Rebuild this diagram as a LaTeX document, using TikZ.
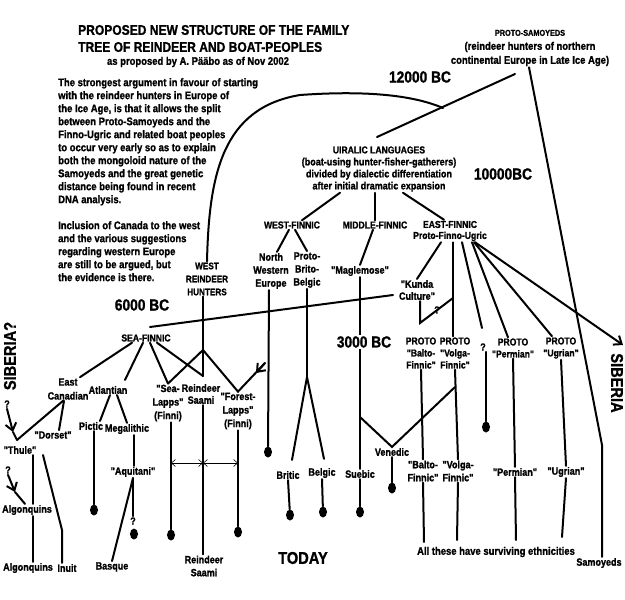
\documentclass[tikz,border=0pt]{standalone}
\usepackage{fontspec}
\setmainfont{Liberation Sans}[FakeStretch=0.86,Ligatures=TeXOff,BoldFeatures={FakeBold=1.2}]
\usetikzlibrary{arrows.meta}
\usetikzlibrary{shapes.geometric}

\tikzset{
  txt/.style={font=\bfseries\fontsize{10.5}{13}\selectfont,align=center,inner sep=1pt},
  caps/.style={txt,font=\bfseries\fontsize{10}{12}\selectfont},
  era/.style={font=\bfseries\fontsize{16}{18}\selectfont,inner sep=1pt},
  tree/.style={line width=2pt,line cap=round},
  enddot/.style={ellipse,fill=black,inner sep=0pt,minimum width=8pt,minimum height=11pt},
  drift/.style={line width=0.6pt,{Straight Barb[length=4pt,width=7pt]}-{Straight Barb[length=4pt,width=7pt]}}
}

\begin{document}
\begin{tikzpicture}[x=1pt,y=-1pt,>={Straight Barb[length=7pt,width=11pt]}]
\fill[white] (0,0) rectangle (625,600);
\useasboundingbox (0,0) rectangle (625,600);

% heading and notes
\node[font=\bfseries\fontsize{14}{17}\selectfont,align=left,anchor=west,inner sep=0pt] (title) at (78,38.5) {PROPOSED NEW STRUCTURE OF THE FAMILY\\TREE OF REINDEER AND BOAT-PEOPLES};
\node[txt,font=\bfseries\fontsize{11}{13}\selectfont] (byline) at (198,62) {as proposed by A. Pääbo as of Nov 2002};
\node[txt,font=\bfseries\fontsize{11}{13}\selectfont,align=left,anchor=north west] (argue) at (57,77) {The strongest argument in favour of starting\\with the reindeer hunters in Europe of\\the Ice Age, is that it allows the split\\between Proto-Samoyeds and the\\Finno-Ugric and related boat peoples\\to occur very early so as to explain\\both the mongoloid nature of the\\Samoyeds and the great genetic\\distance being found in recent\\DNA analysis.};
\node[txt,font=\bfseries\fontsize{11}{13}\selectfont,align=left,anchor=north west] (canada) at (57,220) {Inclusion of Canada to the west\\and the various suggestions\\regarding western Europe\\are still to be argued, but\\the evidence is there.};

% dates
\node[era] (y12000) at (420,77) {12000 BC};
\node[era] (y10000) at (503,174) {10000BC};
\node[era] (y6000) at (142,305) {6000 BC};
\node[era,font=\bfseries\fontsize{17}{18}\selectfont] (today) at (303,558) {TODAY};
\node[era,font=\bfseries\fontsize{17}{18}\selectfont,rotate=-90] (sib) at (617,383) {SIBERIA};
\node[era,font=\bfseries\fontsize{17}{18}\selectfont,rotate=90] (sibq) at (10,356) {SIBERIA?};

% upper tree
\node[txt,font=\bfseries\fontsize{11}{14}\selectfont] (psam) at (530,48) {{\fontsize{8.5}{14}\selectfont PROTO-SAMOYEDS}\\(reindeer hunters of northern\\continental Europe in Late Ice Age)};
\node[txt,font=\bfseries\fontsize{10.5}{12}\selectfont] (ural) at (379,169) {{\fontsize{10}{12}\selectfont UIRALIC LANGUAGES}\\(boat-using hunter-fisher-gatherers)\\divided by dialectic differentiation\\after initial dramatic expansion};
\node[caps] (wfin) at (292,225) {WEST-FINNIC};
\node[caps] (mfin) at (375,225) {MIDDLE-FINNIC};
\node[caps,font=\bfseries\fontsize{10}{11}\selectfont] (efin) at (450,231) {EAST-FINNIC\\Proto-Finno-Ugric};
\node[txt] (nwe) at (271,271) {North\\Western\\Europe};
\node[txt] (pbb) at (307,270) {Proto-\\Brito-\\Belgic};
\node[txt] (magl) at (360,271) {"Maglemose"};
\node[txt,font=\bfseries\fontsize{10.5}{12}\selectfont] (kunda) at (417,290) {"Kunda\\Culture"};
\node[caps,font=\bfseries\fontsize{9.5}{13}\selectfont] (wrh) at (207,279) {WEST\\REINDEER\\HUNTERS};

\coordinate (psJ) at (443,108);
\coordinate (uralTop) at (377,137);
\coordinate (psFoot) at (515,74);
\coordinate (samBend) at (602,445);
\draw[tree] (uralTop) -- (psFoot);
\draw[tree] (wrh.north) .. controls (209,175) and (222,108) .. (300,95) .. controls (370,90) and (415,96) .. (psJ);
\node[txt] (samoy) at (599,563) {Samoyeds};
\draw[tree] ([xshift=-1pt]psam.south) -- (samBend) -- ([xshift=3pt]samoy.north);

\draw[tree] ([xshift=-39pt]ural.south) -- ([xshift=10pt]wfin.north);
\draw[tree] ([xshift=-4pt]ural.south) -- (mfin.north);
\draw[tree] ([xshift=24pt]ural.south) -- ([xshift=-6pt]efin.north);
\draw[tree] ([xshift=-3pt]wfin.south) -- ([xshift=6pt]nwe.north);
\draw[tree] ([xshift=3pt]wfin.south) -- (pbb.north);
\draw[tree] ([xshift=-2pt]mfin.south) -- (magl.north);

% east-finnic fan
\node[txt,font=\bfseries\fontsize{10}{12}\selectfont] (pbalto) at (421,353) {PROTO\\"Balto-\\Finnic"};
\node[txt,font=\bfseries\fontsize{10}{12}\selectfont] (pvolga) at (455,353) {PROTO\\"Volga-\\Finnic"};
\node[txt] (qmid) at (483,347) {?};
\node[txt,font=\bfseries\fontsize{10}{12}\selectfont] (pperm) at (513,348) {PROTO\\"Permian"};
\node[txt,font=\bfseries\fontsize{10}{12}\selectfont] (pugr) at (561,348) {PROTO\\"Ugrian"};
\node[txt] (qkunda) at (437,310) {?};
\coordinate (baltoJ) at (420,323);
\coordinate (volgaJ) at (453,298);
\coordinate (qTop) at (482,328);
\coordinate (sibTip) at (623,345);
\draw[tree] ([xshift=-9pt]efin.south) -- (kunda.north);
\draw[tree] ([xshift=3pt]efin.south) -- ([xshift=-2pt]pvolga.north);
\draw[tree] ([xshift=12pt]efin.south) -- (qTop);
\draw[tree] ([xshift=22pt]efin.south) -- ([xshift=-5pt]pperm.north);
\draw[tree] ([xshift=24pt]efin.south) -- ([xshift=-9pt]pugr.north);
\draw[tree,->] ([xshift=25pt]efin.south) -- (sibTip);
\draw[tree] ([xshift=3pt]kunda.south) -- (baltoJ) -- (volgaJ);

% 6000 BC horizon and sea-finnic
\coordinate (sixL) at (150,327);
\coordinate (kundaW) at (393,295);
\draw[tree] (sixL) -- (kundaW);
\node[caps] (seafin) at (146,338) {SEA-FINNIC};
\node[txt,font=\bfseries\fontsize{10.5}{14}\selectfont] (ecan) at (68,389) {East\\Canadian};
\node[txt] (atl) at (108,390) {Atlantian};
\node[txt,font=\bfseries\fontsize{10.5}{13.5}\selectfont] (sealapps) at (168,403) {"Sea-\\Lapps"\\(Finni)};
\node[txt,font=\bfseries\fontsize{10.5}{12}\selectfont] (rsaami) at (201,394) {Reindeer\\Saami};
\node[txt,font=\bfseries\fontsize{10.5}{13.5}\selectfont] (forest) at (238,411) {"Forest-\\Lapps"\\(Finni)};
\coordinate (rsApex) at (203,350);
\coordinate (rsJoin) at (203,376);
\coordinate (fEnd) at (265,363);
\coordinate (fArr) at (256,373);
\draw[tree] ([xshift=-14pt]seafin.south) -- ([xshift=12pt]ecan.north);
\draw[tree] ([xshift=-3pt]seafin.south) -- ([xshift=17pt,yshift=5pt]atl.north);
\draw[tree] ([xshift=4pt]seafin.south) -- (sealapps.north);
\draw[tree] ([xshift=11pt]seafin.south) -- (rsJoin);
\draw[tree] ([xshift=-4pt]wrh.south) -- (rsJoin);
\draw[tree] (sealapps.north) -- (rsApex) -- (forest.north) -- (fEnd);
\draw[tree,->] (fEnd) -- (fArr);

% canada
\node[txt] (dorset) at (53,435) {"Dorset"};
\node[txt] (thule) at (20,450) {"Thule"};
\node[txt] (q1) at (7,404) {?};
\node[txt] (q2) at (8,470) {?};
\node[txt] (alg1) at (27,510) {Algonquins};
\node[txt] (alg2) at (28,568) {Algonquins};
\node[txt] (inuit) at (67,568) {Inuit};
\coordinate (thV) at (17,440);
\coordinate (thArr) at (13,432);
\coordinate (aArr) at (15,492);
\coordinate (inBend) at (62,530);
\draw[tree] ([xshift=-5pt]ecan.south) -- (thV);
\draw[tree] ([xshift=-4pt]ecan.south) -- ([xshift=6pt]dorset.north);
\draw[tree,->] (q1.south) -- (thArr);
\draw[tree] (thArr) -- (thV);
\draw[tree] ([xshift=13pt]thule.south) -- ([xshift=6pt]alg1.north);
\draw[tree] ([xshift=23pt]thule.south) -- (inBend) -- ([xshift=-5pt]inuit.north);
\draw[tree,->] (q2.south) -- (aArr);
\draw[tree] (aArr) -- ([xshift=-2pt]alg1.north);
\draw[tree] ([xshift=6pt]alg1.south) -- ([xshift=5pt]alg2.north);

% atlantic
\node[txt] (pictic) at (91,426) {Pictic};
\node[txt] (megal) at (127,429) {Megalithic};
\node[txt] (aquit) at (133,472) {"Aquitani"};
\node[txt] (q3) at (133,521) {?};
\node[txt] (basque) at (112,567) {Basque};
\node[enddot] (dPi) at (94,510) {};
\node[enddot] (dAq) at (134,534) {};
\draw[tree] ([xshift=2pt]atl.south) -- ([xshift=9pt]pictic.north);
\draw[tree] ([xshift=9pt]atl.south) -- (megal.north);
\draw[tree] ([xshift=3pt]pictic.south) -- (dPi);
\draw[tree] ([xshift=7pt]megal.south) -- ([xshift=1pt]aquit.north);
\draw[tree] (aquit.south) -- (basque.north);
\draw[tree] (aquit.south) -- (q3.north);

% lapps and saami
\node[txt,font=\bfseries\fontsize{10.5}{13}\selectfont] (rsaami2) at (204,566) {Reindeer\\Saami};
\node[enddot] (dSL) at (171,535) {};
\node[enddot] (dFL) at (238,532) {};
\draw[tree] ([xshift=3pt]sealapps.south) -- (dSL);
\draw[tree] ([xshift=2pt]rsaami.south) -- ([xshift=-1pt]rsaami2.north);
\draw[tree] (forest.south) -- (dFL);
\coordinate (slX) at (171,463);
\coordinate (rsX) at (203,463);
\coordinate (flX) at (238,463);
\draw[drift] (slX) -- (rsX);
\draw[drift] (rsX) -- (flX);

% west-finnic descendants
\node[txt] (britic) at (288,475) {Britic};
\node[txt] (belgic) at (322,473) {Belgic};
\node[txt] (suebic) at (360,474) {Suebic};
\node[txt] (venedic) at (392,452) {Venedic};
\node[enddot] (dNWE) at (268,452) {};
\node[enddot] (dBr) at (290,515) {};
\node[enddot] (dBe) at (323,512) {};
\node[enddot] (dSu) at (360,512) {};
\node[enddot] (dVe) at (392,488) {};
\coordinate (pbbJ) at (307,377);
\coordinate (venL) at (360,417);
\coordinate (venR) at (455,387);
\draw[tree] ([xshift=-2pt]nwe.south) -- (dNWE);
\draw[tree] (pbb.south) -- (pbbJ);
\draw[tree] (pbbJ) -- ([xshift=4pt,yshift=10pt]britic.north);
\draw[tree] (pbbJ) -- ([xshift=2pt,yshift=8pt]belgic.north);
\draw[tree] (britic.south) -- (dBr);
\draw[tree] (belgic.south) -- (dBe);
\draw[tree] (magl.south) -- (suebic.north);
\draw[tree] (suebic.south) -- (dSu);
\draw[tree] (venL) -- (venedic.north) -- (venR);
\draw[tree] (venedic.south) -- (dVe);
\node[era,fill=white] (y3000) at (364,342) {3000 BC};

% east-finnic descendants
\node[txt,font=\bfseries\fontsize{10.5}{13}\selectfont] (balto2) at (423,471) {"Balto-\\Finnic"};
\node[txt,font=\bfseries\fontsize{10.5}{13}\selectfont] (volga2) at (458,471) {"Volga-\\Finnic"};
\node[txt] (perm2) at (515,472) {"Permian"};
\node[txt] (ugr2) at (566,472) {"Ugrian"};
\node[txt,font=\bfseries\fontsize{11}{13}\selectfont] (allthese) at (496,552) {All these have surviving ethnicities};
\node[enddot] (dQ) at (486,427) {};
\coordinate (baltoEnd) at (424,542);
\coordinate (volgaEnd) at (457,540);
\coordinate (permEnd) at (516,540);
\coordinate (ugrEnd) at (562,537);
\draw[tree] ([xshift=3pt]qmid.south) -- (dQ);
\draw[tree] (pbalto.south) -- (balto2.north);
\draw[tree] (pvolga.south) -- (volga2.north);
\draw[tree] (pperm.south) -- (perm2.north);
\draw[tree] (pugr.south) -- (ugr2.north);
\draw[tree] (balto2.south) -- (baltoEnd);
\draw[tree] (volga2.south) -- (volgaEnd);
\draw[tree] (perm2.south) -- (permEnd);
\draw[tree] (ugr2.south) -- (ugrEnd);

\end{tikzpicture}
\end{document}
